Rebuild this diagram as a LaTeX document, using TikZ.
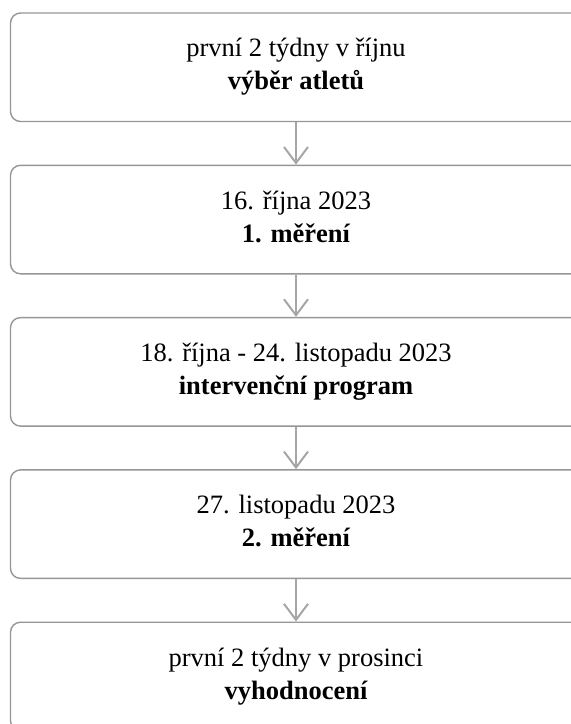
\documentclass[tikz,border=0pt]{standalone}
\usepackage{fontspec}
\setmainfont{Liberation Serif}
\usetikzlibrary{arrows.meta}
\definecolor{frame}{RGB}{150,150,150}
\definecolor{flow}{RGB}{166,166,166}
\begin{document}
\begin{tikzpicture}[x=1pt,y=1pt,
  stagebox/.style={draw=frame, line width=1.4pt, rounded corners=10pt,
    rectangle, minimum width=571pt, minimum height=108.5pt, inner sep=0pt},
  datetext/.style={anchor=base, inner sep=0pt, font=\fontsize{26.5}{32}\selectfont},
  titletext/.style={anchor=base, inner sep=0pt, font=\fontsize{26.5}{32}\selectfont\bfseries},
  flowarrow/.style={draw=flow, line width=2pt,
    -{Straight Barb[length=16pt,width=24pt,line width=2pt]}}]
\useasboundingbox (0,0) rectangle (571,-724);

% five stages, one below the other
\node[stagebox] (s1) at (296,-67.25) {};
\node[stagebox] (s2) at (296,-219.55) {};
\node[stagebox] (s3) at (296,-371.85) {};
\node[stagebox] (s4) at (296,-524.15) {};
\node[stagebox] (s5) at (296,-676.45) {};

% texts: date on the first line, stage name in bold below
\node[datetext]  (d1) at ([yshift=-44.5pt]s1.north) {první 2 týdny v říjnu};
\node[titletext] (t1) at ([yshift=-77.5pt]s1.north) {výběr atletů};
\node[datetext]  (d2) at ([yshift=-44.5pt]s2.north) {16. října 2023};
\node[titletext] (t2) at ([yshift=-77.5pt]s2.north) {1. měření};
\node[datetext]  (d3) at ([yshift=-44.5pt]s3.north) {18. října - 24. listopadu 2023};
\node[titletext] (t3) at ([yshift=-77.5pt]s3.north) {intervenční program};
\node[datetext]  (d4) at ([yshift=-44.5pt]s4.north) {27. listopadu 2023};
\node[titletext] (t4) at ([yshift=-77.5pt]s4.north) {2. měření};
\node[datetext]  (d5) at ([yshift=-44.5pt]s5.north) {první 2 týdny v prosinci};
\node[titletext] (t5) at ([yshift=-77.5pt]s5.north) {vyhodnocení};

% connectors between consecutive stages
\draw[flowarrow] (s1.south) -- (s2.north);
\draw[flowarrow] (s2.south) -- (s3.north);
\draw[flowarrow] (s3.south) -- (s4.north);
\draw[flowarrow] (s4.south) -- (s5.north);
\end{tikzpicture}
\end{document}
